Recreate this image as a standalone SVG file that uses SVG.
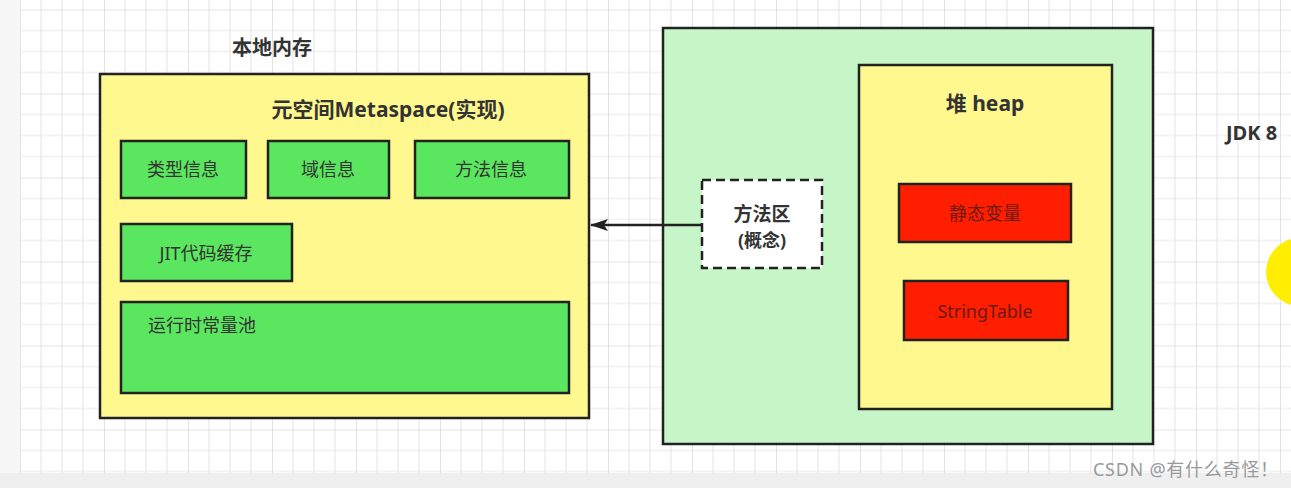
<svg xmlns="http://www.w3.org/2000/svg" width="1291" height="488" viewBox="0 0 1291 488">
<style>
.t{font-family:"Noto Sans","Noto Sans CJK SC",sans-serif;fill:#333}
.b{font-weight:bold}
.box{stroke:#222;stroke-width:2.5}
.y{fill:#fff88f}
.g{fill:#5ae65f}
.r{fill:#ff1f00}
.rt{fill:#6a1a10}
</style>
<defs>
<pattern id="grid" x="20" y="9.5" width="84" height="84" patternUnits="userSpaceOnUse">
<path d="M0 0V84M21 0V84M42 0V84M63 0V84M0 0H84M0 21H84M0 42H84M0 63H84" stroke="#e8e8e8" stroke-width="1.2" fill="none"/>
<path d="M0 0V84M0 0H84" stroke="#dcdcdc" stroke-width="1.4" fill="none"/>
</pattern>
<marker id="arr" markerWidth="18" markerHeight="14" refX="17" refY="7" orient="auto" markerUnits="userSpaceOnUse">
<path d="M0 1L18 7L0 13L4 7Z" fill="#222"/>
</marker>
</defs>
<rect width="1291" height="488" fill="#f7f7f7"/>
<rect x="20" y="0" width="1271" height="473" fill="#fff"/>
<rect x="20" y="0" width="1271" height="473" fill="url(#grid)"/>
<rect x="0" y="473" width="1291" height="15" fill="#efefef"/>

<text class="t b" x="272" y="55" font-size="20" text-anchor="middle">本地内存</text>

<g id="metaspace">
<rect class="box y" x="100" y="74" width="489" height="344"/>
<text class="t b" x="388" y="117" font-size="21" text-anchor="middle">元空间Metaspace(实现)</text>
</g>
<g id="type-info">
<rect class="box g" x="121" y="141" width="125" height="57"/>
<text class="t" x="183" y="176" font-size="18" text-anchor="middle">类型信息</text>
</g>
<g id="field-info">
<rect class="box g" x="268" y="141" width="121" height="57"/>
<text class="t" x="328" y="176" font-size="18" text-anchor="middle">域信息</text>
</g>
<g id="method-info">
<rect class="box g" x="415" y="141" width="154" height="57"/>
<text class="t" x="491" y="176" font-size="18" text-anchor="middle">方法信息</text>
</g>
<g id="jit">
<rect class="box g" x="121" y="224" width="171" height="57"/>
<text class="t" x="206" y="260" font-size="18" text-anchor="middle">JIT代码缓存</text>
</g>
<g id="constant-pool">
<rect class="box g" x="121" y="302" width="448" height="91"/>
<text class="t" x="148" y="332" font-size="18">运行时常量池</text>
</g>

<g id="jdk-area">
<rect class="box" fill="#c6f5c8" x="663" y="28" width="490" height="416"/>
</g>
<g id="heap">
<rect class="box y" x="859" y="65" width="253" height="344"/>
<text class="t b" x="985" y="111" font-size="21" text-anchor="middle">堆 heap</text>
</g>
<g id="static-vars">
<rect class="box r" x="899" y="184" width="172" height="58"/>
<text class="t rt" x="985" y="220" font-size="18" text-anchor="middle">静态变量</text>
</g>
<g id="string-table">
<rect class="box r" x="904" y="281" width="164" height="59"/>
<text class="t rt" x="985" y="318" font-size="18" text-anchor="middle">StringTable</text>
</g>
<g id="method-area">
<rect x="702" y="180" width="120" height="88" fill="#fff" stroke="#222" stroke-width="2.5" stroke-dasharray="9 5"/>
<text class="t b" x="762" y="221" font-size="19" text-anchor="middle">方法区</text>
<text class="t b" x="762" y="247" font-size="18" text-anchor="middle">(概念)</text>
</g>

<g id="connectors">
<line x1="702" y1="225" x2="591" y2="225" stroke="#222" stroke-width="2.5" marker-end="url(#arr)"/>
</g>

<text class="t b" x="1226" y="140" font-size="20">JDK 8</text>
<circle cx="1300" cy="272" r="34" fill="#ffee00"/>
<text x="1093" y="476" font-size="18" fill="#9a9a9a" textLength="185" lengthAdjust="spacing" font-family="Noto Sans,Noto Sans CJK SC,sans-serif">CSDN @有什么奇怪！</text>
</svg>
